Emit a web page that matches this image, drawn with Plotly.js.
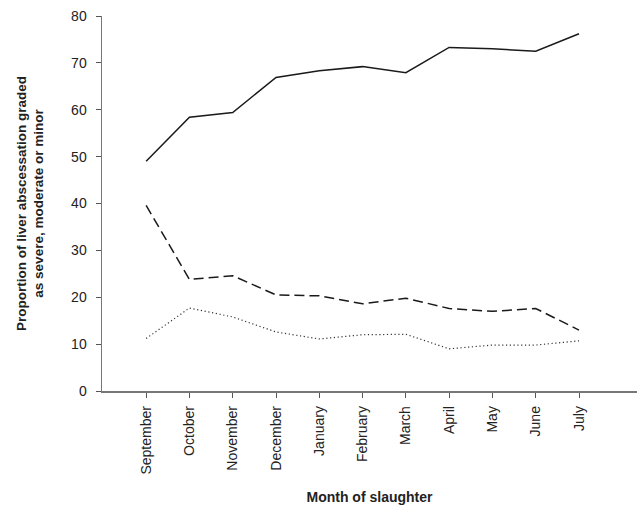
<!DOCTYPE html>
<html>
<head>
<meta charset="utf-8">
<script src="https://cdn.plot.ly/plotly-3.0.1.min.js"></script>
<style>html,body{margin:0;padding:0;background:#fff;}#chart{width:637px;height:505px;}</style>
</head>
<body>
<div id="chart"></div>
<script>
var months = ["September","October","November","December","January","February","March","April","May","June","July"];
var severe = [49.0, 58.4, 59.4, 66.9, 68.3, 69.2, 67.9, 73.3, 73.0, 72.5, 76.2];
var moderate = [39.6, 23.8, 24.6, 20.5, 20.3, 18.6, 19.8, 17.6, 17.0, 17.6, 13.0];
var minor = [11.2, 17.7, 15.8, 12.6, 11.1, 12.0, 12.1, 9.0, 9.8, 9.8, 10.7];
var yTicks = [0, 10, 20, 30, 40, 50, 60, 70, 80];

var traces = [
  {x: months, y: severe, type: "scatter", mode: "lines", line: {color: "#1a1a1a", width: 1.5}},
  {x: months, y: moderate, type: "scatter", mode: "lines", line: {color: "#1a1a1a", width: 1.5, dash: "10px,5px"}},
  {x: months, y: minor, type: "scatter", mode: "lines", line: {color: "#333333", width: 1.2, dash: "1.2px,2.6px"}}
];

var layout = {
  width: 637, height: 505,
  margin: {l: 102, r: 0, t: 16, b: 114},
  paper_bgcolor: "#fff", plot_bgcolor: "#fff",
  showlegend: false,
  font: {family: "Liberation Sans, Arial, sans-serif", color: "#222"},
  xaxis: {
    type: "category",
    categoryorder: "array", categoryarray: months,
    range: [-1.02, 11.34],
    showgrid: false, zeroline: false,
    showline: true, linecolor: "#777", linewidth: 1.5,
    ticks: "outside", ticklen: 5, tickcolor: "#555", tickwidth: 1,
    ticklabelstandoff: 3,
    tickangle: -90,
    tickfont: {size: 14, color: "#222"},
    title: {text: "<b>Month of slaughter</b>", font: {size: 14, color: "#222"}, standoff: 19},
    automargin: false
  },
  yaxis: {
    range: [0, 80],
    tickvals: yTicks,
    showgrid: false, zeroline: false,
    showline: true, linecolor: "#777", linewidth: 1.5,
    ticks: "outside", ticklen: 5, tickcolor: "#555", tickwidth: 1,
    ticklabelstandoff: 6,
    tickfont: {size: 14, color: "#222"},
    title: {text: "<b>Proportion of liver abscessation graded<br>as severe, moderate or minor</b>", font: {size: 13.5, color: "#222"}, standoff: 24},
    automargin: false
  }
};

Plotly.newPlot("chart", traces, layout, {displayModeBar: false, staticPlot: true});
</script>
</body>
</html>
